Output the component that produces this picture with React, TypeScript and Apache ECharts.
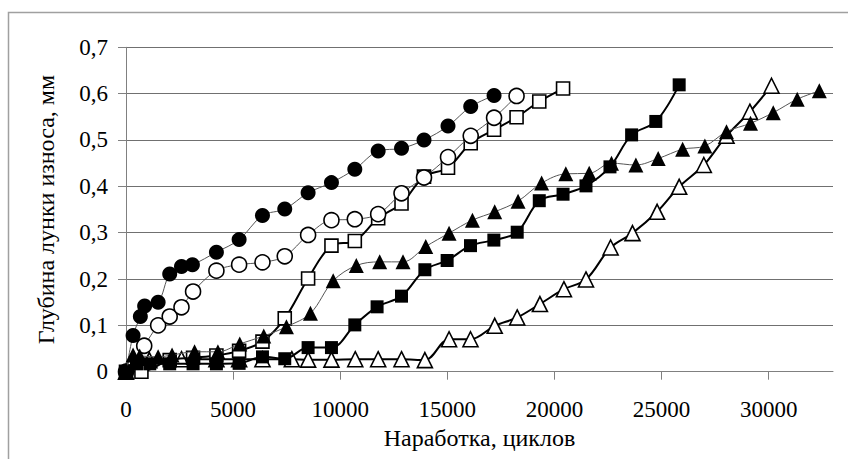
import React, { useEffect, useRef } from "react";
import * as echarts from "echarts";

const xTickValues = [0, 5000, 10000, 15000, 20000, 25000, 30000];
const yTickValues = [0, 0.1, 0.2, 0.3, 0.4, 0.5, 0.6, 0.7];

const xTitle = "Наработка, циклов";
const yTitle = "Глубина лунки износа, мм";

// ● filled circles
const filledCircleX = [0, 330, 670, 870, 1500, 2040, 2590, 3100, 4220, 5280, 6370, 7410, 8500, 9590, 10680, 11770, 12860, 13910, 15030, 16090, 17180];
const filledCircleY = [0, 0.078, 0.119, 0.142, 0.15, 0.211, 0.227, 0.231, 0.258, 0.285, 0.337, 0.351, 0.386, 0.408, 0.437, 0.476, 0.482, 0.5, 0.53, 0.572, 0.596];

// ○ open circles
const openCircleX = [0, 850, 1500, 2040, 2590, 3130, 4220, 5280, 6370, 7410, 8500, 9590, 10680, 11770, 12860, 13910, 15030, 16090, 17180, 18230];
const openCircleY = [0, 0.056, 0.1, 0.119, 0.139, 0.173, 0.218, 0.231, 0.236, 0.249, 0.295, 0.327, 0.329, 0.34, 0.385, 0.419, 0.463, 0.509, 0.548, 0.595];

// □ open squares
const openSquareX = [0, 720, 2040, 3130, 4220, 5280, 6370, 7410, 8500, 9590, 10680, 11770, 12860, 13910, 15030, 16090, 17180, 18230, 19290, 20400];
const openSquareY = [0, 0, 0.025, 0.03, 0.035, 0.045, 0.065, 0.115, 0.201, 0.272, 0.282, 0.331, 0.363, 0.421, 0.44, 0.493, 0.522, 0.549, 0.583, 0.611];

// ▲ filled triangles
const filledTriangleX = [0, 330, 640, 1500, 2150, 3200, 4290, 5310, 6430, 7490, 8610, 9670, 10750, 11840, 12930, 13990, 15080, 16170, 17210, 18300, 19400, 20530, 21620, 22660, 23800, 24840, 25980, 27020, 28030, 29150, 30210, 31330, 32360];
const filledTriangleY = [0, 0.036, 0.034, 0.032, 0.036, 0.043, 0.043, 0.06, 0.077, 0.097, 0.126, 0.196, 0.229, 0.237, 0.237, 0.27, 0.299, 0.327, 0.345, 0.368, 0.407, 0.427, 0.428, 0.45, 0.446, 0.46, 0.48, 0.487, 0.518, 0.536, 0.559, 0.588, 0.606];

// ■ filled squares
const filledSquareX = [0, 490, 1110, 2040, 3130, 4220, 5280, 6370, 7410, 8500, 9590, 10680, 11720, 12860, 13950, 14990, 16080, 17170, 18260, 19290, 20400, 21470, 22590, 23600, 24730, 25820];
const filledSquareY = [0, 0.017, 0.017, 0.017, 0.017, 0.017, 0.018, 0.032, 0.028, 0.052, 0.052, 0.101, 0.14, 0.163, 0.22, 0.24, 0.272, 0.284, 0.301, 0.369, 0.383, 0.401, 0.442, 0.511, 0.54, 0.619];

// △ open triangles
const openTriangleX = [0, 1090, 2590, 4220, 5280, 6370, 7740, 8500, 9590, 10700, 11770, 12860, 13950, 15080, 16080, 17210, 18260, 19320, 20440, 21470, 22620, 23640, 24790, 25820, 26970, 28030, 29120, 30130];
const openTriangleY = [0, 0.025, 0.027, 0.027, 0.027, 0.027, 0.027, 0.026, 0.026, 0.027, 0.027, 0.027, 0.025, 0.07, 0.07, 0.099, 0.117, 0.146, 0.178, 0.199, 0.268, 0.299, 0.345, 0.399, 0.446, 0.509, 0.561, 0.617];

const FONT = "Liberation Serif";

function zip(xs: number[], ys: number[]) {
  return xs.map((x, i) => [x, ys[i]]);
}

function makeSeries(name: string, xs: number[], ys: number[], symbol: string, size: number, filled: boolean, thick: boolean, z: number) {
  return {
    type: "line",
    name,
    data: zip(xs, ys),
    symbol,
    symbolSize: size,
    showAllSymbol: true,
    smooth: 0.35,
    z,
    lineStyle: { color: thick ? "#000" : "#555", width: thick ? 2 : 1 },
    itemStyle: {
      color: filled ? "#000" : "#fff",
      borderColor: "#000",
      borderWidth: filled ? 0 : 1.6,
      opacity: 1,
    },
    emphasis: { disabled: true },
    silent: true,
  };
}

export default function App() {
  const ref = useRef<HTMLDivElement>(null);
  useEffect(() => {
    if (!ref.current) return;
    const chart = echarts.init(ref.current, null, { renderer: "svg" });
    chart.setOption({
      animation: false,
      backgroundColor: "#fff",
      textStyle: { fontFamily: FONT },
      grid: { left: 126, top: 47.3, right: 15, bottom: 87.3, containLabel: false },
      graphic: [
        {
          type: "rect",
          shape: { x: 8.5, y: 12.5, width: 1000, height: 1000 },
          style: { fill: "none", stroke: "#a0a0a0", lineWidth: 1.5 },
          silent: true,
          z: -10,
        },
      ],
      xAxis: {
        type: "value",
        min: 0,
        max: 33000,
        interval: 5000,
        name: xTitle,
        nameLocation: "middle",
        nameGap: 50,
        nameTextStyle: { fontFamily: FONT, fontSize: 24, color: "#000" },
        axisLine: { show: true, onZero: false, lineStyle: { color: "#808080", width: 1 } },
        axisTick: { show: true, inside: false, length: 8, customValues: xTickValues, lineStyle: { color: "#808080" } },
        axisLabel: {
          margin: 26,
          customValues: xTickValues,
          fontFamily: FONT,
          fontSize: 23,
          color: "#000",
          formatter: (v: number) => String(v),
        },
        splitLine: { show: false },
      },
      yAxis: {
        type: "value",
        min: 0,
        max: 0.7,
        interval: 0.1,
        name: yTitle,
        nameLocation: "middle",
        nameGap: 68,
        nameTextStyle: { fontFamily: FONT, fontSize: 24, color: "#000" },
        axisLine: { show: true, lineStyle: { color: "#808080", width: 1 } },
        axisTick: { show: true, inside: false, length: 8, customValues: yTickValues, lineStyle: { color: "#808080" } },
        axisLabel: {
          margin: 18,
          customValues: yTickValues,
          fontFamily: FONT,
          fontSize: 23,
          color: "#000",
          formatter: (v: number) => (Math.abs(v) < 1e-9 ? "0" : v.toFixed(1).replace(".", ",")),
        },
        splitLine: { show: true, lineStyle: { color: "#707070", width: 1 } },
      },
      series: [
        makeSeries("△", openTriangleX, openTriangleY, "triangle", 15, false, true, 2),
        makeSeries("□", openSquareX, openSquareY, "rect", 13, false, true, 3),
        makeSeries("○", openCircleX, openCircleY, "circle", 15, false, false, 4),
        makeSeries("●", filledCircleX, filledCircleY, "circle", 15, true, false, 5),
        makeSeries("▲", filledTriangleX, filledTriangleY, "triangle", 15, true, false, 6),
        makeSeries("■", filledSquareX, filledSquareY, "rect", 13, true, true, 7),
      ],
    });
    return () => chart.dispose();
  }, []);
  return (
    <div
      ref={ref}
      style={{ position: "fixed", left: 0, top: 0, width: 848, height: 459, background: "#fff" }}
    />
  );
}
